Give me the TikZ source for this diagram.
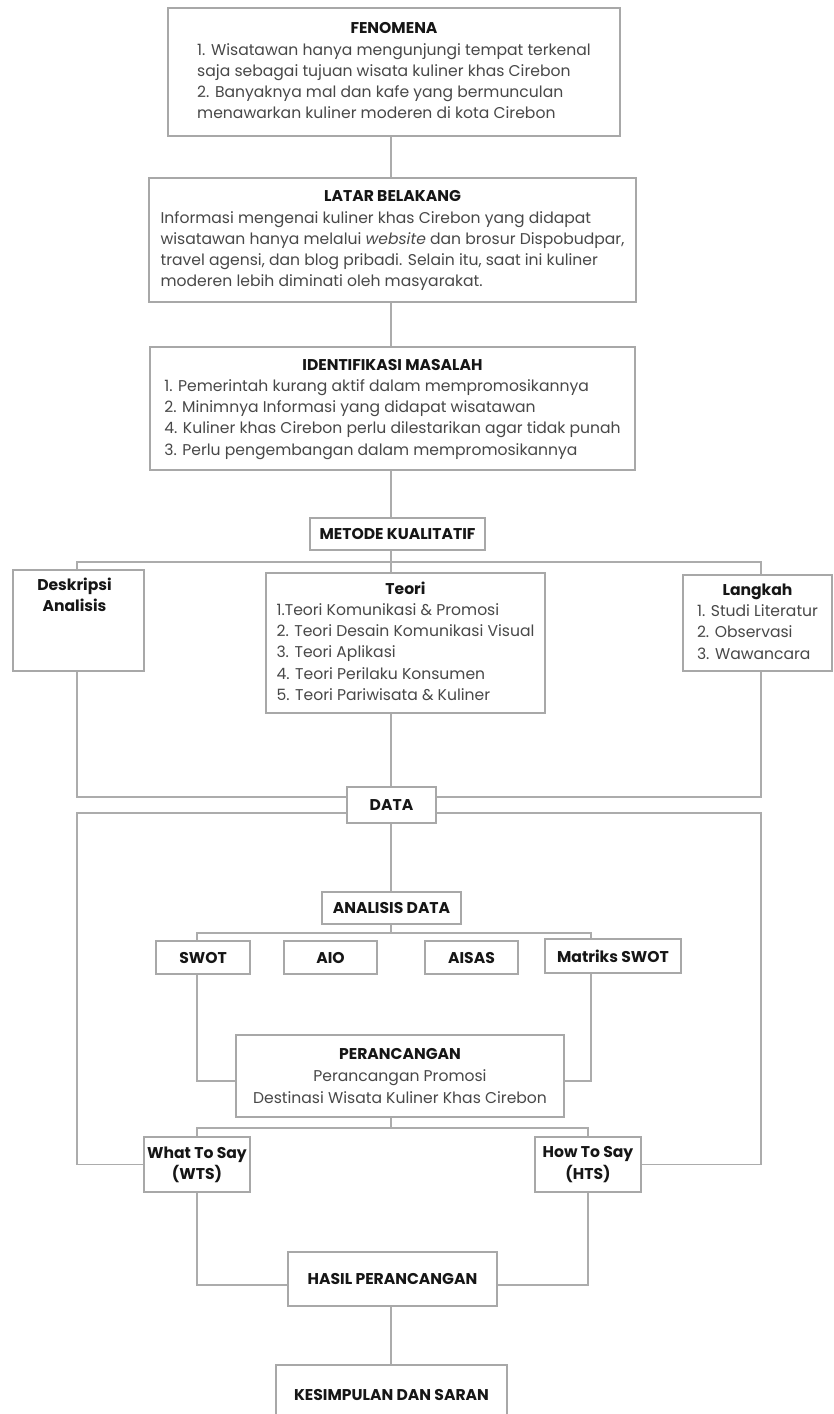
\documentclass[tikz,border=0pt]{standalone}
\usepackage{fontspec}
\setmainfont{Poppins}
\usepackage{xcolor}
\definecolor{framegray}{RGB}{168,168,168}
\definecolor{linegray}{RGB}{172,172,172}
\definecolor{bodytext}{RGB}{72,72,72}
\definecolor{headtext}{RGB}{22,22,22}
\newcommand{\hd}[1]{\multicolumn{1}{@{}c@{}}{\color{headtext}\bfseries #1}}
\newcommand{\lines}[1]{\begin{tabular}{@{}l@{}}#1\end{tabular}}

\begin{document}
\begin{tikzpicture}[
    x=0.5pt, y=-0.5pt,
    box/.style={draw=framegray, fill=white, line width=0.7pt, inner sep=0pt, align=center, text=bodytext, font=\fontsize{7.8}{10.6}\selectfont},
    head/.style={box, text=headtext, font=\fontsize{7.8}{10.6}\selectfont\bfseries},
    link/.style={draw=linegray, line width=0.8pt}
  ]
    \useasboundingbox (0,0) rectangle (834,1414);
    \coordinate (axis) at (391,0);
    \coordinate (lout) at (77,0);
    \coordinate (rout) at (761,0);
    \coordinate (lcol) at (197,0);
    \coordinate (rcol) at (591,0);

    \node[box, minimum width=226pt, minimum height=64pt] (fenomena) at (394,72) {\lines{\hd{FENOMENA}\\
      1. Wisatawan hanya mengunjungi tempat terkenal\\
      saja sebagai tujuan wisata kuliner khas Cirebon\\
      2. Banyaknya mal dan kafe yang bermunculan\\
      menawarkan kuliner moderen di kota Cirebon}};
    \node[box, minimum width=243.5pt, minimum height=62pt] (latar) at (392.5,240) {\lines{\hd{LATAR BELAKANG}\\
      Informasi mengenai kuliner khas Cirebon yang didapat\\
      wisatawan hanya melalui \textit{website} dan brosur Dispobudpar,\\
      travel agensi, dan blog pribadi. Selain itu, saat ini kuliner\\
      moderen lebih diminati oleh masyarakat.}};
    \node[box, minimum width=242.5pt, minimum height=61.5pt] (ident) at (392.5,408.5) {\lines{\hd{IDENTIFIKASI MASALAH}\\
      1. Pemerintah kurang aktif dalam mempromosikannya\\
      2. Minimnya Informasi yang didapat wisatawan\\
      4. Kuliner khas Cirebon perlu dilestarikan agar tidak punah\\
      3. Perlu pengembangan dalam mempromosikannya}};
    \node[head, minimum width=87.5pt, minimum height=16pt] (metode) at (397.5,534) {METODE KUALITATIF};

    \node[box, minimum width=65.5pt, minimum height=50.5pt] (desk) at (78.5,620.5) {};
    \node[head, draw=none, fill=none, anchor=north] (desktxt) at ([xshift=-2pt, yshift=-4pt]desk.north) {Deskripsi\\Analisis};
    \node[box, minimum width=139.5pt, minimum height=70pt] (teori) at (405.5,643) {\lines{\hd{Teori}\\
      1.Teori Komunikasi \& Promosi\\
      2. Teori Desain Komunikasi Visual\\
      3. Teori Aplikasi\\
      4. Teori Perilaku Konsumen\\
      5. Teori Pariwisata \& Kuliner}};
    \node[box, minimum width=74.5pt, minimum height=48pt] (langkah) at (757.5,623) {\lines{\hd{Langkah}\\
      1. Studi Literatur\\
      2. Observasi\\
      3. Wawancara}};

    \node[head, minimum width=44.5pt, minimum height=18pt] (data) at (391.5,805) {DATA};
    \node[head, minimum width=69.5pt, minimum height=16pt] (analisis) at (391.5,908) {ANALISIS DATA};
    \node[head, minimum width=47pt, minimum height=16.5pt] (swot) at (203,957.5) {SWOT};
    \node[head, minimum width=46.5pt, minimum height=16.5pt] (aio) at (330.5,957.5) {AIO};
    \node[head, minimum width=46.5pt, minimum height=16.5pt] (aisas) at (471.5,957.5) {AISAS};
    \node[head, minimum width=68pt, minimum height=17pt] (matriks) at (613,956) {Matriks SWOT};

    \node[box, minimum width=164pt, minimum height=41pt, font=\fontsize{7.8}{11.2}\selectfont] (peran) at (400,1076) {{\color{headtext}\bfseries PERANCANGAN}\\
      Perancangan Promosi\\
      Destinasi Wisata Kuliner Khas Cirebon};
    \node[head, minimum width=53pt, minimum height=27.5pt] (wts) at (197,1164.5) {What To Say\\(WTS)};
    \node[head, minimum width=53pt, minimum height=27.5pt] (hts) at (588,1164.5) {How To Say\\(HTS)};
    \node[head, minimum width=104.5pt, minimum height=27pt] (hasil) at (392.5,1279) {HASIL PERANCANGAN};
    \node[head, minimum width=115.5pt, minimum height=30pt] (kesimp) at (391.5,1395) {KESIMPULAN DAN SARAN};

    % main column
    \draw[link] (fenomena.south -| axis) -- (latar.north -| axis);
    \draw[link] (latar.south -| axis) -- (ident.north -| axis);
    \draw[link] (ident.south -| axis) -- (metode.north -| axis);
    \draw[link] (metode.south -| axis) -- (teori.north -| axis);
    \coordinate (split) at (391,562);
    \draw[link] (lout |- desk.north) |- (split) -| (rout |- langkah.north);
    \draw[link] (teori.south -| axis) -- (data.north -| axis);
    \draw[link] (lout |- desk.south) |- ([yshift=4pt]data.west);
    \draw[link] (rout |- langkah.south) |- ([yshift=4pt]data.east);
    \draw[link] ([yshift=-4pt]data.west) -| (lout |- wts.west) -- (wts.west);
    \draw[link] ([yshift=-4pt]data.east) -| (rout |- hts.east) -- (hts.east);

    % analysis
    \draw[link] (data.south -| axis) -- (analisis.north -| axis);
    \coordinate (abar) at (391,933);
    \draw[link] (analisis.south -| axis) -- (abar);
    \draw[link] (lcol |- swot.north) |- (abar) -| (rcol |- matriks.north);
    \draw[link] (lcol |- swot.south) |- ([yshift=-2.5pt]peran.west);
    \draw[link] (rcol |- matriks.south) |- ([yshift=-2.5pt]peran.east);

    % design output
    \coordinate (pbar) at (391,1128);
    \draw[link] (peran.south -| axis) -- (pbar);
    \draw[link] (wts.north) |- (pbar) -| (hts.north);
    \draw[link] (wts.south) |- ([yshift=-3pt]hasil.west);
    \draw[link] (hts.south) |- ([yshift=-3pt]hasil.east);
    \draw[link] (hasil.south -| axis) -- (kesimp.north -| axis);
  \end{tikzpicture}
\end{document}
